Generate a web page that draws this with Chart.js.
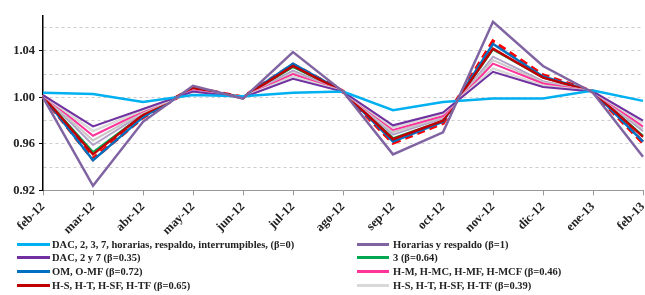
<!DOCTYPE html>
<html>
<head>
<meta charset="utf-8">
<script src="https://cdn.jsdelivr.net/npm/chart.js@4.4.1/dist/chart.umd.min.js"></script>
<style>
  body { margin: 0; background: #fff; }
  #wrap { position: relative; width: 645px; height: 295px; }
  #box { position: absolute; left: 0; top: 0; width: 645px; height: 242px; }
  .leyenda { position: absolute; font: bold 10.5px "Liberation Serif", serif; color: #222; white-space: nowrap; }
  .leyenda .item { position: absolute; height: 14px; line-height: 14px; }
  .leyenda .linea { position: absolute; top: 5px; height: 3px; }
  .leyenda .txt { position: absolute; top: 0; }
</style>
</head>
<body>
<div id="wrap">
  <div id="box"><canvas id="grafico"></canvas></div>
  <div class="leyenda" id="leyenda"></div>
</div>
<script>
const meses = ['feb-12', 'mar-12', 'abr-12', 'may-12', 'jun-12', 'jul-12', 'ago-12', 'sep-12', 'oct-12', 'nov-12', 'dic-12', 'ene-13', 'feb-13'];

const ticksY = [0.92, 0.94, 0.96, 0.98, 1.00, 1.02, 1.04, 1.06];
const ticksConEtiqueta = [0.92, 0.96, 1.00, 1.04];

const serieDAC = [1.004, 1.003, 0.996, 1.002, 1.001, 1.004, 1.005, 0.989, 0.996, 0.999, 0.999, 1.006, 0.997];
const serieHorarias = [1.000, 0.924, 0.979, 1.010, 0.999, 1.039, 1.005, 0.951, 0.970, 1.065, 1.027, 1.004, 0.949];
const serieDAC27 = [1.002, 0.975, 0.990, 1.005, 1.000, 1.016, 1.005, 0.976, 0.987, 1.022, 1.009, 1.005, 0.980];
const serieTres = [1.001, 0.953, 0.985, 1.008, 1.000, 1.026, 1.005, 0.965, 0.980, 1.041, 1.017, 1.005, 0.967];
const serieOM = [1.001, 0.946, 0.983, 1.008, 1.000, 1.029, 1.005, 0.962, 0.979, 1.046, 1.018, 1.005, 0.962];
const serieHM = [1.002, 0.967, 0.988, 1.006, 1.000, 1.020, 1.005, 0.972, 0.984, 1.029, 1.012, 1.005, 0.975];
const serieHS65 = [1.001, 0.951, 0.985, 1.008, 1.000, 1.027, 1.005, 0.964, 0.980, 1.042, 1.017, 1.005, 0.966];
const serieHS39 = [1.002, 0.971, 0.989, 1.005, 1.000, 1.018, 1.005, 0.974, 0.986, 1.025, 1.010, 1.005, 0.978];
// lineas que salen en el grafico pero no en la leyenda
const serieRojaPunteada = [1.001, 0.947, 0.983, 1.008, 1.000, 1.028, 1.005, 0.961, 0.978, 1.048, 1.019, 1.005, 0.961];
const serieLavanda = [1.002, 0.959, 0.986, 1.007, 1.000, 1.023, 1.005, 0.968, 0.982, 1.035, 1.014, 1.005, 0.971];
const serieGris = [1.002, 0.963, 0.987, 1.006, 1.000, 1.021, 1.005, 0.970, 0.983, 1.032, 1.013, 1.005, 0.973];

function linea(label, data, color, ancho, orden, leyenda, dash) {
    return {
        label: label,
        data: data,
        borderColor: color,
        backgroundColor: color,
        borderWidth: ancho,
        borderDash: dash || [],
        pointRadius: 0,
        tension: 0,
        fill: false,
        order: orden,
        enLeyenda: leyenda
    };
}

const datasets = [
    linea('DAC, 2, 3, 7, horarias, respaldo, interrumpibles, (β=0)', serieDAC, '#00b0f0', 2.5, 2, 0),
    linea('Horarias y respaldo (β=1)', serieHorarias, '#8064a2', 2.5, 1, 4),
    linea('DAC, 2 y 7 (β=0.35)', serieDAC27, '#7030a0', 2, 3, 1),
    linea('3 (β=0.64)', serieTres, '#00a650', 2, 7, 5),
    linea('OM, O-MF (β=0.72)', serieOM, '#0070c0', 2.5, 8, 2),
    linea('H-M, H-MC, H-MF, H-MCF (β=0.46)', serieHM, '#ff3399', 2, 5, 6),
    linea('H-S, H-T, H-SF, H-TF (β=0.65)', serieHS65, '#c00000', 2.5, 6, 3),
    linea('H-S, H-T, H-SF, H-TF (β=0.39)', serieHS39, '#d9d9d9', 2.5, 4, 7),
    linea('roja', serieRojaPunteada, '#ff0000', 4, 9, -1, [8, 5]),
    linea('lavanda', serieLavanda, '#b3a2c7', 2, 6.5, -1),
    linea('gris', serieGris, '#c8c8c8', 2, 5.5, -1)
];

const fuente = '"Liberation Serif", serif';

new Chart(document.getElementById('grafico'), {
    type: 'line',
    data: { labels: meses, datasets: datasets },
    options: {
        responsive: true,
        maintainAspectRatio: false,
        animation: false,
        layout: { padding: { top: 16, right: 2, left: 0, bottom: 0 } },
        plugins: { legend: { display: false }, tooltip: { enabled: false } },
        scales: {
            x: {
                offset: false,
                grid: { drawOnChartArea: false, drawTicks: true, tickLength: 5, tickColor: '#999' },
                border: { color: '#999', width: 1 },
                ticks: {
                    minRotation: 45, maxRotation: 45, padding: 4, autoSkip: false,
                    color: '#222', font: { family: fuente, size: 12.5, weight: 'bold' }
                },
                afterFit: function (scale) { scale.paddingLeft = 0; scale.paddingRight = 0; }
            },
            y: {
                min: 0.92, max: 1.07,
                afterBuildTicks: function (scale) { scale.ticks = ticksY.map(v => ({ value: v })); },
                afterFit: function (scale) { scale.width = 43; scale.paddingTop = 0; scale.paddingBottom = 0; },
                grid: {
                    color: ctx => ctx.tick && Math.abs(ctx.tick.value - 0.92) < 1e-6 ? 'rgba(0,0,0,0)' : '#cccccc',
                    lineWidth: 1,
                    tickLength: 4,
                    tickColor: ctx => ticksConEtiqueta.some(v => Math.abs(v - ctx.tick.value) < 1e-6) ? '#000' : 'rgba(0,0,0,0)',
                    tickBorderDash: []
                },
                border: { color: '#000', width: 1.5, dash: [3, 3] },
                ticks: {
                    padding: 4,
                    color: '#222',
                    font: { family: fuente, size: 12.5, weight: 'bold' },
                    callback: function (v) {
                        return ticksConEtiqueta.some(t => Math.abs(t - v) < 1e-6) ? v.toFixed(2) : '';
                    }
                }
            }
        }
    }
});

// leyenda en dos columnas, como en el original
const leyendaUI = document.getElementById('leyenda');
const columnas = [{ linea: 17, ancho: 33, texto: 52 }, { linea: 357, ancho: 32, texto: 393 }];
const filas = [237.5, 251, 265, 278.7];
datasets.filter(d => d.enLeyenda >= 0).forEach(d => {
    const col = columnas[d.enLeyenda < 4 ? 0 : 1];
    const fila = filas[d.enLeyenda % 4];
    const div = document.createElement('div');
    div.className = 'item';
    div.style.top = fila + 'px';
    div.style.left = '0px';
    div.innerHTML = `
        <span class="linea" style="left:${col.linea}px;width:${col.ancho}px;background:${d.borderColor}"></span>
        <span class="txt" style="left:${col.texto}px">${d.label}</span>
    `;
    leyendaUI.appendChild(div);
});
</script>
</body>
</html>
